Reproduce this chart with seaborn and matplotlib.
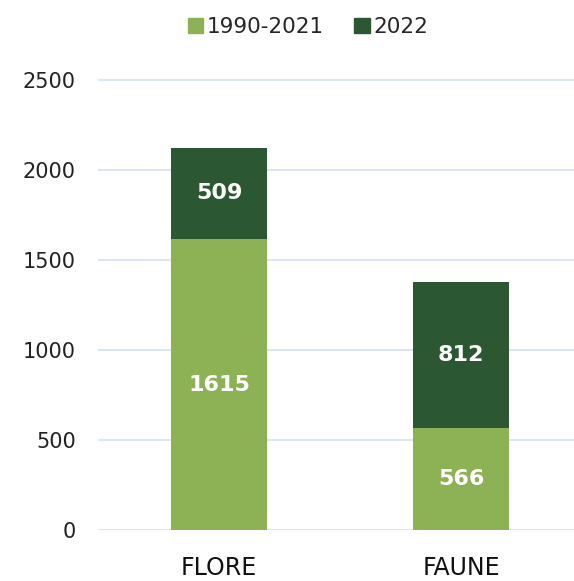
import matplotlib
matplotlib.use("Agg")
from matplotlib import pyplot as plt
from matplotlib.patches import Patch
import pandas as pd
import seaborn as sns

categories = ["FLORE", "FAUNE"]
before_2022 = [1615, 566]
year_2022 = [509, 812]
series_names = ["1990-2021", "2022"]
yticks = [0, 500, 1000, 1500, 2000, 2500]

light = "#8db255"
dark = "#2b5733"
grid_col = "#d9e4f2"

sns.set_style("white")
plt.rcParams["font.family"] = ["DejaVu Sans"]

df = pd.DataFrame({"cat": categories, "base": before_2022, "top": year_2022})
df["total"] = df["base"] + df["top"]

fig = plt.figure(figsize=(5.74, 5.81), dpi=100)
ax = fig.add_axes([98 / 574, 51 / 581, 476 / 574, 453.6 / 581])

sns.barplot(data=df, x="cat", y="total", color=dark, saturation=1, width=0.397,
            linewidth=0, ax=ax, zorder=2)
sns.barplot(data=df, x="cat", y="base", color=light, saturation=1, width=0.397,
            linewidth=0, ax=ax, zorder=3)

for i, row in df.iterrows():
    ax.text(i, row["base"] / 2, str(row["base"]), ha="center", va="center",
            color="white", fontsize=16, fontweight="bold", zorder=4)
    ax.text(i, row["base"] + row["top"] / 2, str(row["top"]), ha="center", va="center",
            color="white", fontsize=16, fontweight="bold", zorder=4)

ax.set_xlim(-0.5, -0.5 + 476 / 242)
ax.set_ylim(0, 2520)
ax.set_yticks(yticks)
ax.yaxis.grid(True, color=grid_col, linewidth=1.3)
ax.set_axisbelow(True)
ax.set_xlabel("")
ax.set_ylabel("")
ax.tick_params(axis="y", length=0, pad=16, labelsize=15, labelcolor="#222222")
ax.tick_params(axis="x", length=0, pad=19, labelsize=17, labelcolor="#111111")
for s in ax.spines.values():
    s.set_visible(False)

handles = [Patch(color=light), Patch(color=dark)]
fig.legend(handles, series_names, loc="center", bbox_to_anchor=(0.537, 1 - 27 / 581),
           ncol=2, frameon=False, fontsize=15.5, handlelength=0.7, handleheight=0.7,
           handletextpad=0.2, columnspacing=1.4)

fig.savefig("out.png", dpi=100)
